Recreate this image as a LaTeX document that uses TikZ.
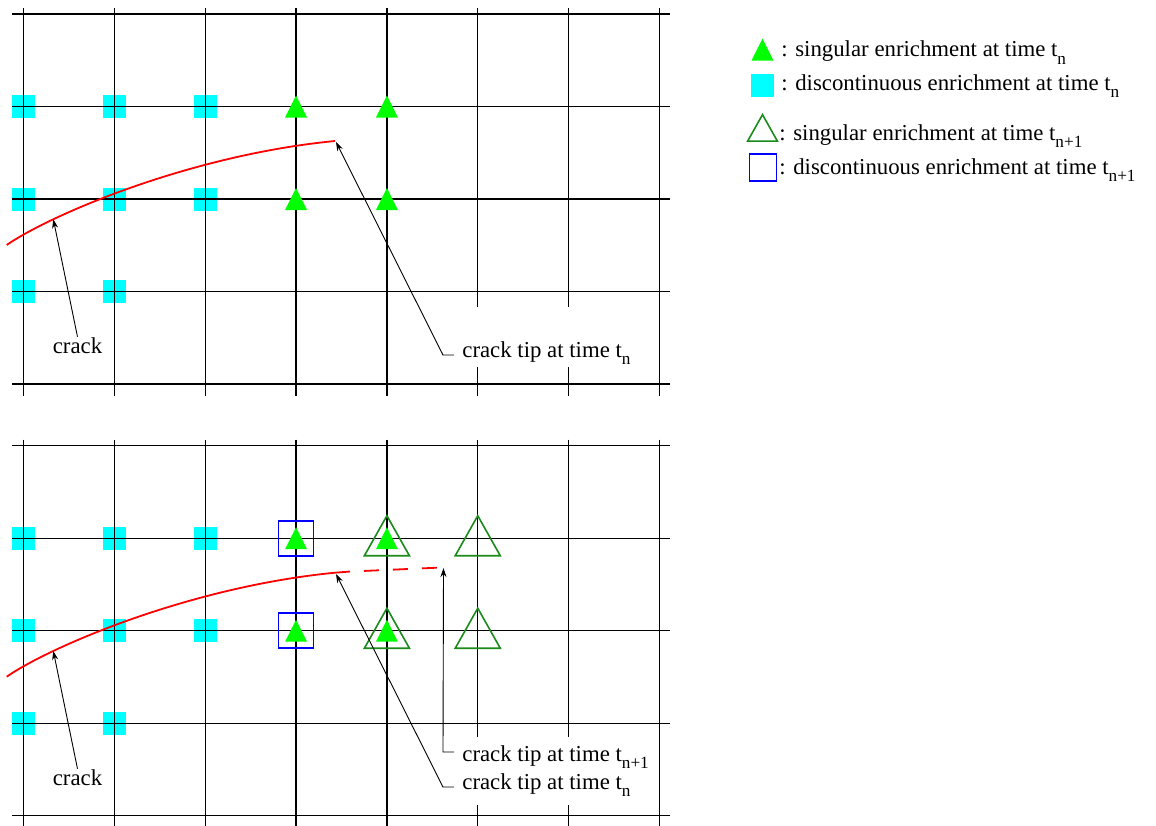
\documentclass[tikz,border=0pt]{standalone}
\usepackage{fontspec}
\setmainfont{Liberation Serif}
\newfontfamily\figfont{Liberation Serif}
\usetikzlibrary{arrows.meta}
\definecolor{singfill}{HTML}{00FF00}
\definecolor{singdk}{HTML}{1A8A1A}
\definecolor{discfill}{HTML}{00FFFF}
\definecolor{discdk}{HTML}{0000FF}
\definecolor{crackc}{HTML}{FF0000}
\newcommand{\tsub}[1]{\raisebox{-0.33em}{\fontsize{8.6pt}{9pt}\selectfont #1}}
\tikzset{
  gridln/.style={line width=0.7pt, draw=black},
  crackln/.style={line width=0.9pt, draw=crackc},
  lead/.style={-{Stealth[length=4.5pt,width=3pt]}, line width=0.45pt},
  txt/.style={font=\figfont\fontsize{11.4pt}{13pt}\selectfont},
  tiplbl/.style={txt, anchor=base west, fill=white, inner xsep=2pt, inner ysep=0pt},
  crk/.style={txt, anchor=base, inner sep=0pt},
  leg/.style={txt, anchor=base west, inner sep=0pt},
  singtn/.pic={\fill[singfill] (-11,11) -- (11,11) -- (0,-11) -- cycle;},
  disctn/.pic={\fill[discfill] (-11.5,-11.5) rectangle (11.5,11.5);},
  singtnn/.pic={\draw[singdk, line width=0.8pt] (-22.5,17.5) -- (22.5,17.5) -- (0,-22.5) -- cycle;},
  disctnn/.pic={\draw[discdk, line width=0.8pt] (-17.5,-17.5) rectangle (17.5,17.5);},
}

\begin{document}
\begin{tikzpicture}[x=0.5pt, y=-0.5pt]
  \useasboundingbox (0,0) rectangle (1156,825);

  \foreach \dy in {0,431.7}{
    \begin{scope}[shift={(0,\dy)}]
      \foreach \c/\r in {0/1,1/1,2/1,0/2,1/2,2/2,0/3,1/3}
        \pic at ({23.5+90.85*\c},{14+92.5*\r}) {disctn};
      \foreach \c in {0,...,7}
        \draw[gridln] ({23.5+90.85*\c},8) -- ({23.5+90.85*\c},396);
      \foreach \r in {0,...,4}
        \draw[gridln] (12,{14+92.5*\r}) -- (670,{14+92.5*\r});
      \foreach \c/\r in {3/1,4/1,3/2,4/2}
        \pic at ({23.5+90.85*\c},{14+92.5*\r}) {singtn};
    \end{scope}
  }

  % time t_n+1 enrichment
  \foreach \r in {1,2}{
    \pic at (296.05,{445.7+92.5*\r}) {disctnn};
    \pic at (386.9,{445.7+92.5*\r}) {singtnn};
    \pic at (477.75,{445.7+92.5*\r}) {singtnn};
  }

  \draw[crackln] (6.7,245) .. controls (50,215) and (190,155) .. (335,141)
    coordinate[pos=0.24] (crackA);
  \begin{scope}[shift={(0,431.7)}]
    \draw[crackln] (6.7,245) .. controls (50,215) and (190,155) .. (335,141)
      coordinate[pos=0.24] (crackB) -- (349,139.9);
  \end{scope}
  \draw[crackln, dash pattern=on 7.5pt off 7pt, dash phase=7pt] (349,571.6) -- (437,567.7);

  \coordinate (tipA) at (336,142);
  \coordinate (tipB) at (336,574);
  \coordinate (tipC) at (443.5,568);

  \node[crk] (crkA) at (77.5,353) {crack};
  \node[crk] (crkB) at (77.5,785) {crack};
  \node[tiplbl, text height=25pt, text depth=5pt] (tipAlbl) at (458,357) {crack tip at time t\tsub{n}};
  \node[tiplbl, text height=12pt, text depth=4pt] (tipClbl) at (458,761) {crack tip at time t\tsub{n+1}};
  \node[tiplbl, text height=10pt, text depth=8pt] (tipBlbl) at (458,789) {crack tip at time t\tsub{n}};

  \draw[lead] (crkA.north) -- (crackA);
  \draw[lead] (crkB.north) -- (crackB);
  \draw[lead] ([shift={(-4,-2)}]tipAlbl.base west) -- ++(-11,0) -- (tipA);
  \draw[lead] ([shift={(-4,-9)}]tipClbl.base west) -- ++(-11,0) -- (tipC);
  \draw[lead] ([shift={(-4,-2)}]tipBlbl.base west) -- ++(-11,0) -- (tipB);

  \pic at (762.5,49.7) {singtn};
  \node[leg] (legA) at (781,56.7) {: singular enrichment at time t\tsub{n}};
  \pic at (762.5,85) {disctn};
  \node[leg] (legB) at (781,90) {: discontinuous enrichment at time t\tsub{n}};
  \pic[scale=0.66] at (762.5,129.5) {singtnn};
  \node[leg] (legC) at (779,140) {: singular enrichment at time t\tsub{n+1}};
  \pic[scale=0.77] at (763,167.5) {disctnn};
  \node[leg] (legD) at (779,174.3) {: discontinuous enrichment at time t\tsub{n+1}};
\end{tikzpicture}
\end{document}
